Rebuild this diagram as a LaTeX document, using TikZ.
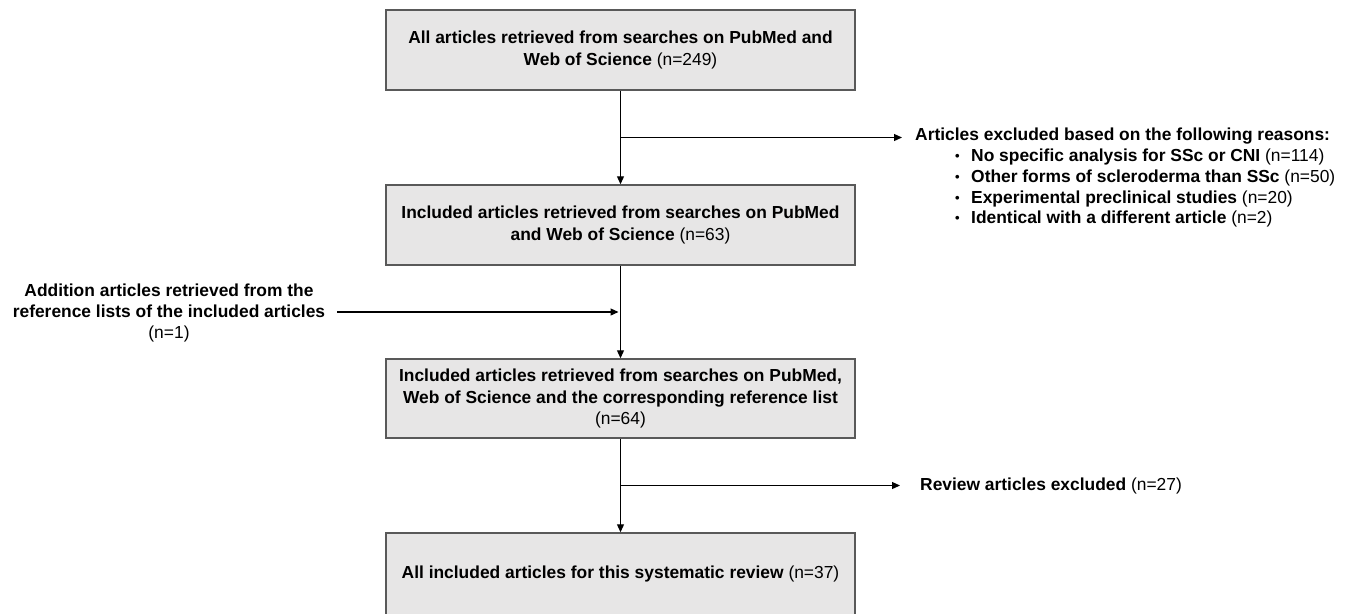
\documentclass[tikz,border=0pt]{standalone}
\usepackage{fontspec}
\setmainfont{Liberation Sans}
\usetikzlibrary{arrows.meta,calc}
\definecolor{boxfill}{HTML}{E7E6E6}
\definecolor{boxline}{HTML}{595959}
\tikzset{
  flowbox/.style={draw=boxline, fill=boxfill, line width=1.5pt, minimum width=469pt,
    minimum height=80pt, align=center, inner sep=0pt,
    font=\bfseries\fontsize{17.4}{21.5}\selectfont},
  plaintext/.style={inner sep=0pt, font=\bfseries\fontsize{17.4}{20.7}\selectfont},
  arr/.style={line width=1.2pt, -{Triangle[length=8pt,width=7pt]}},
  ln/.style={line width=1.2pt}
}
\newcommand{\nn}[1]{{\mdseries #1}}
\newcommand{\bul}{\makebox[16pt][l]{\raisebox{1pt}{\fontsize{13}{13}\selectfont\textbullet}}}
\begin{document}
\begin{tikzpicture}[x=1pt,y=-1pt]
\useasboundingbox (0,0) rectangle (1346,613);
\node[flowbox, font=\bfseries\fontsize{17.4}{22.5}\selectfont] (b1) at (620.5,50) {All articles retrieved from searches on PubMed and\\Web of Science \nn{(n=249)}};
\node[flowbox] (b2) at (620.5,225) {Included articles retrieved from searches on PubMed\\and Web of Science \nn{(n=63)}};
\node[flowbox, minimum height=79pt] (b3) at (620.5,398.5) {Included articles retrieved from searches on PubMed,\\Web of Science and the corresponding reference list\\\nn{(n=64)}};
\node[flowbox, minimum height=82pt] (b4) at (620.5,574) {All included articles for this systematic review \nn{(n=37)}};

\node[plaintext, anchor=west] (exh) at (915,136) {Articles excluded based on the following reasons:};
\node[plaintext, anchor=north west, align=left] (exl) at (955,149) {%
\bul No specific analysis for SSc or CNI \nn{(n=114)}\\
\bul Other forms of scleroderma than SSc \nn{(n=50)}\\
\bul Experimental preclinical studies \nn{(n=20)}\\
\bul Identical with a different article \nn{(n=2)}};

\node[plaintext, align=center] (add) at (169,313) {Addition articles retrieved from the\\reference lists of the included articles\\\nn{(n=1)}};

\node[plaintext, anchor=west] (rev) at (920,485.5) {Review articles excluded \nn{(n=27)}};

\coordinate (br1) at ($(b1.south)!0.5!(b2.north)$);
\coordinate (jn) at ($(b2.south)!0.5!(b3.north)$);
\coordinate (br2) at ($(b3.south)!0.5!(b4.north)$);

\draw[arr] (b1.south) -- (b2.north);
\draw[arr] (b2.south) -- (b3.north);
\draw[arr] (b3.south) -- (b4.north);
\draw[arr, shorten >=13pt] (br1) -- (br1 -| exh.west);
\draw[arr, shorten >=20pt] (br2) -- (br2 -| rev.west);
\draw[arr, shorten <=12pt, shorten >=2pt] (add.east |- jn) -- (jn);
\end{tikzpicture}
\end{document}
